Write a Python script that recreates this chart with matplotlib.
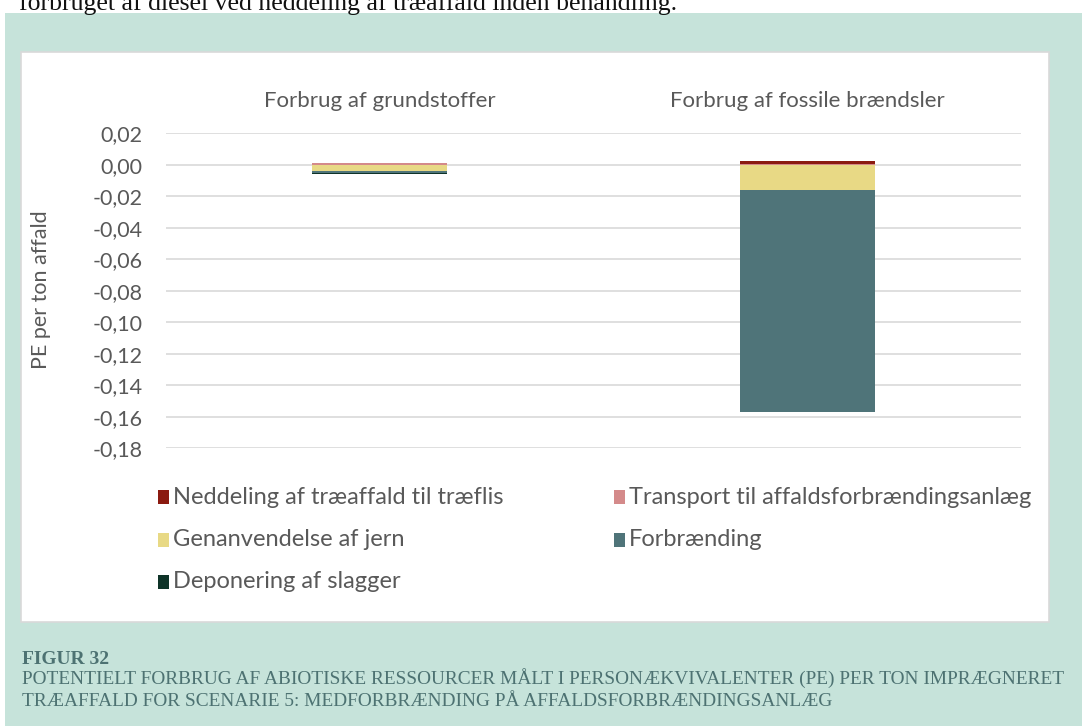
import matplotlib
matplotlib.use("Agg")
import matplotlib.pyplot as plt
from matplotlib.patches import Rectangle
from matplotlib.ticker import FuncFormatter
import matplotlib.transforms as mtrans
import numpy as np

categories = ["Forbrug af grundstoffer", "Forbrug af fossile brændsler"]
series_names = ["Neddeling af træaffald til træflis",
                "Transport til affaldsforbrændingsanlæg",
                "Genanvendelse af jern",
                "Forbrænding",
                "Deponering af slagger"]
neddeling = [0.0003, 0.0019]
transport = [0.0010, 0.0004]
genanvendelse = [-0.0038, -0.0159]
forbraending = [-0.0017, -0.1408]
deponering = [-0.0001, -0.0002]
series_values = [neddeling, transport, genanvendelse, forbraending, deponering]
series_colors = ["#8b1a10", "#d48a8a", "#e8d985", "#4f7479", "#0e3328"]
yticks = [0.02, 0.00, -0.02, -0.04, -0.06, -0.08, -0.10, -0.12, -0.14, -0.16, -0.18]

W, H = 1082, 726
fig = plt.figure(figsize=(W / 100, H / 100), dpi=100)
fig.patch.set_facecolor("white")

def fx(px):
    return px / W

def fy(py):
    return 1 - py / H

# green panel
fig.patches.append(Rectangle((fx(5), 0), 1 - fx(5), fy(13), transform=fig.transFigure,
                             facecolor="#c6e3da", edgecolor="none", zorder=0))
# white chart box
fig.patches.append(Rectangle((fx(21), fy(622)), fx(1049 - 21), (622 - 52) / H,
                             transform=fig.transFigure, facecolor="white",
                             edgecolor="#d9d9d9", linewidth=1.2, zorder=1))

fig.text(fx(19), fy(10), "forbruget af diesel ved neddeling af træaffald inden behandling.",
         family="Liberation Serif", fontsize=18.5, color="#111111", va="baseline", ha="left")

ax = fig.add_axes([fx(166), fy(448.3), fx(1021 - 166), 315 / H])
ax.set_zorder(5)
ax.set_facecolor("none")
x = np.arange(len(categories))
width = 0.315

pos_order = [1, 0]
neg_order = [2, 3, 4]
pos_bottom = np.zeros(len(categories))
for i in pos_order:
    v = np.array(series_values[i])
    ax.bar(x, v, width, bottom=pos_bottom, color=series_colors[i], zorder=3,
           edgecolor="none")
    pos_bottom += v
neg_bottom = np.zeros(len(categories))
for i in neg_order:
    v = np.array(series_values[i])
    ax.bar(x, v, width, bottom=neg_bottom, color=series_colors[i], zorder=3,
           edgecolor="none")
    neg_bottom += v

ax.set_xlim(-0.5, 1.5)
ax.set_ylim(-0.18, 0.02)
ax.set_yticks(yticks)
ax.yaxis.set_major_formatter(FuncFormatter(
    lambda v, p: f"{v:.2f}".replace(".", ",").replace("-0,00", "0,00")))
ax.grid(axis="y", color="#d9d9d9", linewidth=1.2, zorder=0)
ax.set_axisbelow(True)
for s in ax.spines.values():
    s.set_visible(False)
ax.set_xticks([])
ax.tick_params(axis="y", length=0, pad=17, labelsize=15.5, labelcolor="#595959")
for lab in ax.get_yticklabels():
    lab.set_family("Lato")

trans = mtrans.blended_transform_factory(ax.transData, fig.transFigure)
for xi, c in zip(x, categories):
    ax.text(xi, fy(101), c, transform=trans, ha="center", va="center",
            fontsize=16, color="#595959", family="Lato")

fig.text(fx(41), fy(290), "PE per ton affald", rotation=90, ha="center", va="center",
         fontsize=15.5, color="#595959", family="Lato")

# legend (two equal-width columns, filled row-wise as in the reference)
leg_cols = [158, 614]
leg_rows = [497, 540, 582]
for k, (name, col) in enumerate(zip(series_names, series_colors)):
    cx = leg_cols[k % 2]
    ry = leg_rows[k // 2]
    fig.patches.append(Rectangle((fx(cx), fy(ry + 7)), fx(11), 14 / H,
                                 transform=fig.transFigure, facecolor=col,
                                 edgecolor="none", zorder=6))
    fig.text(fx(cx + 15), fy(ry), name, family="Lato", fontsize=17,
             color="#595959", va="center", ha="left", zorder=6)

# caption
cap_color = "#4d7272"
fig.text(fx(22), fy(660), "FIGUR 32", family="Liberation Serif", weight="bold",
         fontsize=14, color=cap_color, va="center", ha="left")
line1 = "POTENTIELT FORBRUG AF ABIOTISKE RESSOURCER MÅLT I PERSONÆKVIVALENTER (PE) PER TON IMPRÆGNERET"
line2 = "TRÆAFFALD FOR SCENARIE 5: MEDFORBRÆNDING PÅ AFFALDSFORBRÆNDINGSANLÆG"
t1 = fig.text(fx(22), fy(678), line1, family="Liberation Serif", fontsize=13,
              color=cap_color, va="center", ha="left")
t2 = fig.text(fx(22), fy(701), line2, family="Liberation Serif", fontsize=13,
              color=cap_color, va="center", ha="left")
fig.canvas.draw()
r = fig.canvas.get_renderer()
w1 = t1.get_window_extent(r).width
scale = (1063 - 22) / w1
t1.set_fontsize(13 * scale)
t2.set_fontsize(13 * scale)

fig.savefig("out.png", dpi=100, facecolor=fig.get_facecolor())
